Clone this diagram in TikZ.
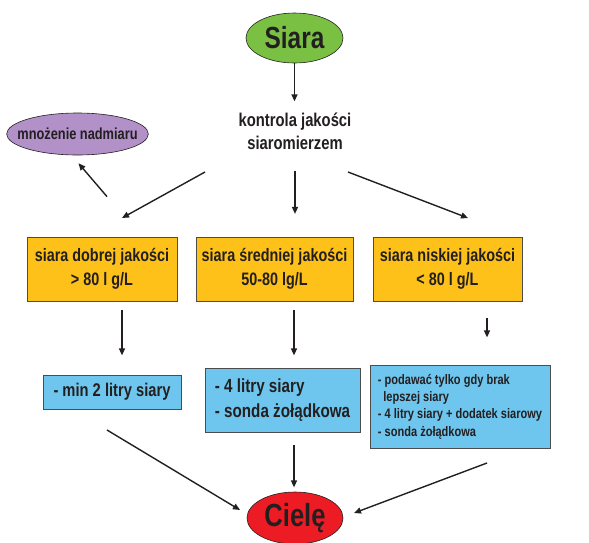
\documentclass[tikz,border=0pt]{standalone}
\usepackage{fontspec}
\setmainfont{Liberation Sans}[FakeStretch=0.80]
\usetikzlibrary{arrows.meta,calc,shapes.geometric}
\definecolor{cgreen}{RGB}{122,193,67}
\definecolor{cpurple}{RGB}{178,144,200}
\definecolor{cyellow}{RGB}{253,193,26}
\definecolor{cblue}{RGB}{110,198,238}
\definecolor{cred}{RGB}{237,28,36}
\definecolor{ctext}{RGB}{35,31,32}
\tikzset{
  arr/.style={line width=1.4pt, draw=ctext, -{Triangle[length=7pt,width=6pt]}},
  oval/.style={ellipse, draw=ctext, line width=0.6pt, inner sep=0pt, text=ctext, font=\bfseries},
  ybox/.style={rectangle, draw=black!70, line width=0.8pt, fill=cyellow, inner sep=0pt, align=center, text=ctext, font=\bfseries\fontsize{18}{24}\selectfont},
  bbox/.style={rectangle, draw=black!70, line width=0.8pt, fill=cblue, inner sep=0pt, align=left, text=ctext, font=\bfseries},
  lbl/.style={align=center, text=ctext, font=\bfseries\fontsize{18.5}{23}\selectfont}
}
\begin{document}
\begin{tikzpicture}[x=1pt,y=-1pt]
\useasboundingbox (0,0) rectangle (589,542);
% nodes
\node[oval, fill=cgreen, minimum width=97pt, minimum height=50pt, font=\bfseries\fontsize{30.5}{32}\selectfont] (siara) at (294.5,38) {Siara};
\node[lbl] (kontrola) at (295,131) {kontrola jakości\\siaromierzem};
\node[oval, fill=cpurple, inner xsep=-10pt, minimum width=141pt, minimum height=42pt, font=\bfseries\fontsize{16}{18}\selectfont] (mnoz) at (77.5,134) {mnożenie nadmiaru};
\node[ybox, minimum width=150pt, minimum height=64pt] (y1) at (102,269) {siara dobrej jakości\\> 80 l g/L};
\node[ybox, minimum width=157pt, minimum height=64pt] (y2) at (274.5,269) {siara średniej jakości\\50-80 lg/L};
\node[ybox, minimum width=149pt, minimum height=64pt] (y3) at (447.5,269) {siara niskiej jakości\\< 80 l g/L};
\node[bbox, minimum width=138pt, minimum height=34pt, align=center, font=\bfseries\fontsize{18.4}{24}\selectfont] (b1) at (112,392) {- min 2 litry siary};
\node[bbox, minimum width=155pt, minimum height=64pt, font=\bfseries\fontsize{19}{25}\selectfont] (b2) at (282.5,400) {- 4 litry siary\\- sonda żołądkowa};
\node[bbox, minimum width=180pt, minimum height=83pt, font=\bfseries\fontsize{13.8}{17.3}\selectfont] (b3) at (460,406.5) {- podawać tylko gdy brak\\\ \,lepszej siary\\- 4 litry siary + dodatek siarowy\\- sonda żołądkowa};
\node[oval, fill=cred, minimum width=96pt, minimum height=52pt, font=\bfseries\fontsize{32}{34}\selectfont] (ciele) at (295,518) {Cielę};
% coordinates
\coordinate (kl) at (205,172);
\coordinate (kr) at (348,172);
\coordinate (y1t) at (122,218);
\coordinate (y3t) at (468,218);
\coordinate (b1s) at (107,430);
\coordinate (b3s) at (487,463);
\coordinate (cl) at (240,510);
\coordinate (cr) at (354,513);
% connectors
\draw[arr] (siara.south) -- ++(0,38);
\draw[arr] (kl) -- (y1t);
\draw[arr] (kontrola.south) ++(0,18) -- ++(0,43);
\draw[arr] (kr) -- (y3t);
\draw[arr] (y1.north) ++(5,-40) -- ($(mnoz.south)+(1,8)$);
\draw[arr] (y1.south) ++(20,9) -- ++(0,45);
\draw[arr] (y2.south) ++(19.5,9) -- ++(0,45);
\draw[arr] (y3.south) ++(39.5,17) -- ++(0,19);
\draw[arr] (b1s) -- (cl);
\draw[arr] (b2.south) ++(11.5,13) -- ++(0,42);
\draw[arr] (b3s) -- (cr);
\end{tikzpicture}
\end{document}
